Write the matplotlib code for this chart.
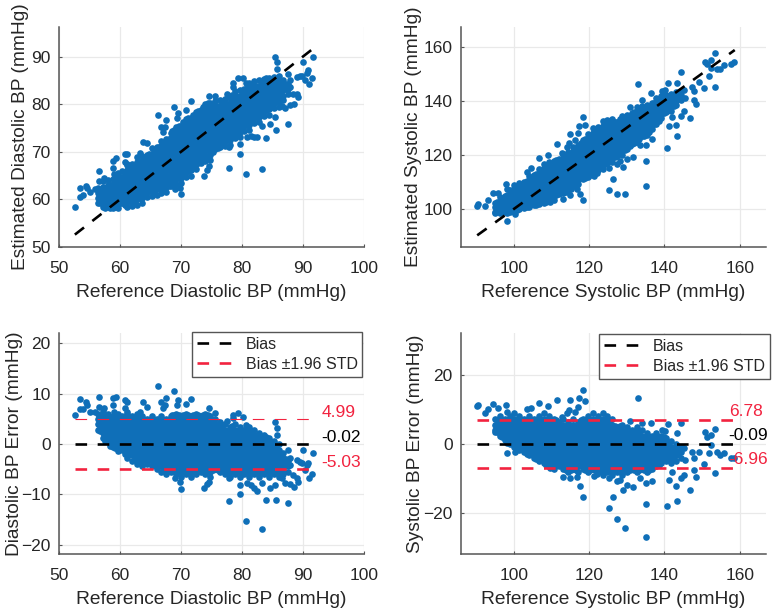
import matplotlib
matplotlib.use("Agg")
from matplotlib import pyplot as plt

plt.rcParams['font.family'] = ['Liberation Sans', 'DejaVu Sans']

# diastolic: reference value of each dense column and the errors read in it
dia_col_ref = [56.4, 57.2, 58.0, 58.8, 59.6, 60.4, 61.2, 62.0, 62.8, 63.6, 64.4, 65.2, 66.0, 66.8, 67.6, 68.4,
               69.2, 70.0, 70.8, 71.6, 72.4, 73.2, 74.0, 74.8, 75.6, 76.4, 77.2, 78.0, 78.8, 79.6, 80.4, 81.2,
               82.0, 82.8, 83.6, 84.4, 85.2, 86.0, 86.8, 87.6]
dia_col_err = [
    [2.8, 3.9, 5, 6],
    [1.1, 2.2, 3.3, 4.4, 5.5, 6.6],
    [.6, 1.7, 2.8, 3.9, 5, 6],
    [-.6, 0, 1.1, 2.2, 3.3, 4.4, 5.5],
    [-1.4, -.6, .6, 1.7, 2.8, 3.9, 5, 6],
    [-1.1, 0, 1.1, 2.2, 3.3, 4.4, 5.5],
    [-2.8, -1.7, -.6, .6, 1.7, 2.8, 3.9, 5, 6],
    [-3.3, -2.2, -1.1, 0, 1.1, 2.2, 3.3, 4.4, 5.5],
    [-3.9, -2.8, -1.7, -.6, .6, 1.7, 2.8, 3.9, 5, 6],
    [-4.4, -3.3, -2.2, -1.1, 0, 1.1, 2.2, 3.3, 4.4, 5.5],
    [-3.9, -2.8, -1.7, -.6, .6, 1.7, 2.8, 3.9, 5],
    [-4.4, -3.3, -2.2, -1.1, 0, 1.1, 2.2, 3.3, 4.4, 5.5],
    [-5, -3.9, -2.8, -1.7, -.6, .6, 1.7, 2.8, 3.9, 5],
    [-5.5, -4.4, -3.3, -2.2, -1.1, 0, 1.1, 2.2, 3.3, 4.4, 5.5],
    [-6, -5, -3.9, -2.8, -1.7, -.6, .6, 1.7, 2.8, 3.9, 5],
    [-5.5, -4.4, -3.3, -2.2, -1.1, 0, 1.1, 2.2, 3.3, 4.4, 5.5],
    [-6, -5, -3.9, -2.8, -1.7, -.6, .6, 1.7, 2.8, 3.9, 5, 6],
    [-6.6, -5.5, -4.4, -3.3, -2.2, -1.1, 0, 1.1, 2.2, 3.3, 4.4, 5.5],
    [-6, -5, -3.9, -2.8, -1.7, -.6, .6, 1.7, 2.8, 3.9, 5, 6],
    [-6.6, -5.5, -4.4, -3.3, -2.2, -1.1, 0, 1.1, 2.2, 3.3, 4.4, 5.5],
    [-6, -5, -3.9, -2.8, -1.7, -.6, .6, 1.7, 2.8, 3.9, 5, 6],
    [-5.5, -4.4, -3.3, -2.2, -1.1, 0, 1.1, 2.2, 3.3, 4.4, 5.5],
    [-6, -5, -3.9, -2.8, -1.7, -.6, .6, 1.7, 2.8, 3.9, 5, 6],
    [-6.6, -5.5, -4.4, -3.3, -2.2, -1.1, 0, 1.1, 2.2, 3.3, 4.4, 5.5],
    [-5, -3.9, -2.8, -1.7, -.6, .6, 1.7, 2.8, 3.9, 5],
    [-5.5, -4.4, -3.3, -2.2, -1.1, 0, 1.1, 2.2, 3.3, 4.4],
    [-6, -5, -3.9, -2.8, -1.7, -.6, .6, 1.7, 2.8, 3.9],
    [-6.6, -5.5, -4.4, -3.3, -2.2, -1.1, 0, 1.1, 2.2, 3.3],
    [-6, -5, -3.9, -2.8, -1.7, -.6, .6, 1.7, 2.8, 3.9],
    [-6.6, -5.5, -4.4, -3.3, -2.2, -1.1, 0, 1.1, 2.2, 3.3],
    [-6, -5, -3.9, -2.8, -1.7, -.6, .6, 1.7, 2.8],
    [-6.6, -5.5, -4.4, -3.3, -2.2, -1.1, 0, 1.1, 2.2, 3.3],
    [-6, -5, -3.9, -2.8, -1.7, -.6, .6, 1.7, 2.8],
    [-6.6, -5.5, -4.4, -3.3, -2.2, -1.1, 0, 1.1, 2.2],
    [-6, -5, -3.9, -2.8, -1.7, -.6, .6, 1.7],
    [-6.6, -5.5, -4.4, -3.3, -2.2, -1.1, 0, 1.1],
    [-6, -5, -3.9, -2.8, -1.7, -.6, .6],
    [-6.6, -5.5, -4.4, -3.3, -2.2, -1.1, 0],
    [-6, -5, -3.9, -2.8, -1.7],
    [-5.5, -4.4, -3.3],
]

# more diastolic points, in between those columns
dia_mid_ref = [56.8, 57.6, 58.4, 59.2, 60.0, 60.8, 61.6, 62.4, 63.2, 64.0, 64.8, 65.6, 66.4, 67.2, 68.0, 68.8,
               69.6, 70.4, 71.2, 72.0, 72.8, 73.6, 74.4, 75.2, 76.0, 76.8, 77.6, 78.4, 79.2, 80.0, 80.8, 81.6,
               82.4, 83.2, 84.0, 84.8, 85.6, 86.4, 87.2]
dia_mid_err = [
    [2.5, 3.6, 4.7],
    [.6, 1.4, 2.5, 3.6, 4.7],
    [-.3, .3, 1.4, 2.5, 3.6, 4.7],
    [-.8, .3, 1.4, 2.5, 3.6, 4.7],
    [-.8, .3, 1.4, 2.5, 3.6, 4.7],
    [-1.9, -.8, .3, 1.4, 2.5, 3.6, 4.7],
    [-1.9, -.8, .3, 1.4, 2.5, 3.6, 4.7],
    [-3, -1.9, -.8, .3, 1.4, 2.5, 3.6, 4.7],
    [-3, -1.9, -.8, .3, 1.4, 2.5, 3.6, 4.7],
    [-3, -1.9, -.8, .3, 1.4, 2.5, 3.6, 4.7],
    [-3, -1.9, -.8, .3, 1.4, 2.5, 3.6, 4.7],
    [-4.1, -3, -1.9, -.8, .3, 1.4, 2.5, 3.6, 4.7],
    [-4.1, -3, -1.9, -.8, .3, 1.4, 2.5, 3.6, 4.7],
    [-5.2, -4.1, -3, -1.9, -.8, .3, 1.4, 2.5, 3.6, 4.7],
    [-5.2, -4.1, -3, -1.9, -.8, .3, 1.4, 2.5, 3.6, 4.7],
    [-5.2, -4.1, -3, -1.9, -.8, .3, 1.4, 2.5, 3.6, 4.7, 5.8],
    [-5.2, -4.1, -3, -1.9, -.8, .3, 1.4, 2.5, 3.6, 4.7, 5.8],
    [-5.2, -4.1, -3, -1.9, -.8, .3, 1.4, 2.5, 3.6, 4.7, 5.8],
    [-5.2, -4.1, -3, -1.9, -.8, .3, 1.4, 2.5, 3.6, 4.7, 5.8],
    [-5.2, -4.1, -3, -1.9, -.8, .3, 1.4, 2.5, 3.6, 4.7, 5.8],
    [-5.2, -4.1, -3, -1.9, -.8, .3, 1.4, 2.5, 3.6, 4.7, 5.8],
    [-5.2, -4.1, -3, -1.9, -.8, .3, 1.4, 2.5, 3.6, 4.7, 5.8],
    [-5.2, -4.1, -3, -1.9, -.8, .3, 1.4, 2.5, 3.6, 4.7, 5.8],
    [-5.2, -4.1, -3, -1.9, -.8, .3, 1.4, 2.5, 3.6, 4.7],
    [-5.2, -4.1, -3, -1.9, -.8, .3, 1.4, 2.5, 3.6],
    [-5.2, -4.1, -3, -1.9, -.8, .3, 1.4, 2.5, 3.6],
    [-5.2, -4.1, -3, -1.9, -.8, .3, 1.4, 2.5],
    [-5.2, -4.1, -3, -1.9, -.8, .3, 1.4, 2.5, 3.6],
    [-5.2, -4.1, -3, -1.9, -.8, .3, 1.4, 2.5],
    [-5.2, -4.1, -3, -1.9, -.8, .3, 1.4, 2.5],
    [-5.2, -4.1, -3, -1.9, -.8, .3, 1.4, 2.5],
    [-5.2, -4.1, -3, -1.9, -.8, .3, 1.4, 2.5],
    [-5.2, -4.1, -3, -1.9, -.8, .3, 1.4],
    [-5.2, -4.1, -3, -1.9, -.8, .3, 1.4],
    [-5.2, -4.1, -3, -1.9, -.8, .3, 1.4],
    [-5.2, -4.1, -3, -1.9, -.8, .3],
    [-5.2, -4.1, -3, -1.9, -.8],
    [-5.2, -4.1, -3, -1.9],
    [-4.1, -3],
]

# diastolic points lying outside the dense cloud
dia_out_ref = [52.6, 53.4, 53.4, 54, 54.5, 54.6, 55.1, 55.9, 56.5, 56.5, 57.3, 58.8, 59.3, 58.9, 59, 60.8, 61.2,
               60.8, 61.1, 63.7, 64.5, 63.3, 66.3, 66.8, 67.5, 67.4, 67.1, 68.9, 69.5, 69.3, 71.7, 70.9, 74.6,
               75.6, 68.5, 77.6, 78.6, 79.3, 78.6, 80.1, 80.7, 85.4, 85.7, 85.7, 90.0, 91.6, 87.6, 87.8, 87.8,
               89, 89.8, 90.9, 90.3, 91.4, 91, 90.7, 89.5, 88.4, 89, 89.2, 87.9, 88.6, 87, 86.5, 87.6, 85.5,
               83.9, 83.2, 80.6, 77.9, 79.6, 79.7, 80.8, 81.4, 82.4, 81.9, 83.2, 84.6, 85.4, 70, 73.7, 74.6,
               74.2, 69, 69.9, 77.8]
dia_out_err = [5.8, 7.0, 8.9, 7, 8.4, 7.7, 6.4, 6.3, 9.4, 7.4, 7.1, 9.2, 9.4, 7.7, 6.4, 8.7, 8.4,
               7.1, 6.4, 8.4, 7.4, 6.4, 11.5, 8.3, 9.2, 7.7, 7.1, 10.6, 8.7, 7.7, 8.9, 7.9, 7.2,
               6.2, 5.8, 4.6, 5.1, 6.1, 5.8, 5.4, 3.8, 4.4, 3.1, 1.7, -1.1, -1.7, -1.2, -2.8, -4.2,
               -3.2, -3.8, -3.8, -5.2, -6, -6.7, -4.2, -3.5, -6.2, -6.8, -7.6, -8, -8.6, -7.8, -6.8, -11.7, -11,
               -11, -16.9, -15.3, -11.3, -10, -8.1, -7.8, -8.1, -9.3, -8.7, -7.8, -8.7, -8.1, -8.9, -8.7, -7.5,
               -8, -6.8, -7.5, -6.8]

# systolic: same thing
sys_col_ref = [95.0, 96.3, 97.6, 98.9, 100.2, 101.5, 102.8, 104.1, 105.4, 106.7, 108.0, 109.3, 110.6, 111.9,
               113.2, 114.5, 115.8, 117.1, 118.4, 119.7, 121.0, 122.3, 123.6, 124.9, 126.2, 127.5, 128.8, 130.1,
               131.4, 132.7, 134.0, 135.3, 136.6, 137.9, 139.2, 140.5, 141.8, 143.1, 144.4]
sys_col_err = [
    [3.4, 4, 5.6, 7.2],
    [2.4, 3.2, 4.8, 6.4, 8],
    [1.2, 2.4, 4, 5.6, 7.2],
    [0, 1.6, 3.2, 4.8, 6.4, 8],
    [-.8, .8, 2.4, 4, 5.6, 7.2, 8.8],
    [-1.6, 0, 1.6, 3.2, 4.8, 6.4, 8],
    [-2.4, -.8, .8, 2.4, 4, 5.6, 7.2],
    [-3.2, -1.6, 0, 1.6, 3.2, 4.8, 6.4, 8],
    [-4, -2.4, -.8, .8, 2.4, 4, 5.6, 7.2],
    [-4.8, -3.2, -1.6, 0, 1.6, 3.2, 4.8, 6.4, 8],
    [-5.6, -4, -2.4, -.8, .8, 2.4, 4, 5.6, 7.2, 8.8],
    [-6.4, -4.8, -3.2, -1.6, 0, 1.6, 3.2, 4.8, 6.4, 8],
    [-7.2, -5.6, -4, -2.4, -.8, .8, 2.4, 4, 5.6, 7.2],
    [-6.4, -4.8, -3.2, -1.6, 0, 1.6, 3.2, 4.8, 6.4],
    [-7.2, -5.6, -4, -2.4, -.8, .8, 2.4, 4, 5.6, 7.2],
    [-8, -6.4, -4.8, -3.2, -1.6, 0, 1.6, 3.2, 4.8, 6.4],
    [-7.2, -5.6, -4, -2.4, -.8, .8, 2.4, 4, 5.6, 7.2],
    [-8, -6.4, -4.8, -3.2, -1.6, 0, 1.6, 3.2, 4.8, 6.4],
    [-7.2, -5.6, -4, -2.4, -.8, .8, 2.4, 4, 5.6, 7.2],
    [-8, -6.4, -4.8, -3.2, -1.6, 0, 1.6, 3.2, 4.8, 6.4, 8],
    [-7.2, -5.6, -4, -2.4, -.8, .8, 2.4, 4, 5.6, 7.2, 8.8],
    [-8, -6.4, -4.8, -3.2, -1.6, 0, 1.6, 3.2, 4.8, 6.4, 8],
    [-8.8, -7.2, -5.6, -4, -2.4, -.8, .8, 2.4, 4, 5.6, 7.2, 8.8],
    [-8, -6.4, -4.8, -3.2, -1.6, 0, 1.6, 3.2, 4.8, 6.4, 8],
    [-8.8, -7.2, -5.6, -4, -2.4, -.8, .8, 2.4, 4, 5.6, 7.2],
    [-8, -6.4, -4.8, -3.2, -1.6, 0, 1.6, 3.2, 4.8],
    [-8.8, -7.2, -5.6, -4, -2.4, -.8, .8, 2.4, 4, 5.6],
    [-8, -6.4, -4.8, -3.2, -1.6, 0, 1.6, 3.2, 4.8],
    [-7.2, -5.6, -4, -2.4, -.8, .8, 2.4, 4],
    [-8, -6.4, -4.8, -3.2, -1.6, 0, 1.6, 3.2, 4.8],
    [-7.2, -5.6, -4, -2.4, -.8, .8, 2.4, 4],
    [-8, -6.4, -4.8, -3.2, -1.6, 0, 1.6, 3.2],
    [-7.2, -5.6, -4, -2.4, -.8, .8, 2.4],
    [-6.4, -4.8, -3.2, -1.6, 0, 1.6, 3.2],
    [-5.6, -4, -2.4, -.8, .8, 2.4],
    [-4.8, -3.2, -1.6, 0, 1.6],
    [-5.6, -4, -2.4, -.8, .8],
    [-4.8, -3.2, -1.6, 0],
    [-4, -2.4, -.8],
]

sys_mid_ref = [95.65, 96.95, 98.25, 99.55, 100.85, 102.15, 103.45, 104.75, 106.05, 107.35, 108.65, 109.95, 111.25,
               112.55, 113.85, 115.15, 116.45, 117.75, 119.05, 120.35, 121.65, 122.95, 124.25, 125.55, 126.85,
               128.15, 129.45, 130.75, 132.05, 133.35, 134.65, 135.95, 137.25, 138.55, 139.85, 141.15, 142.45,
               143.75]
sys_mid_err = [
    [3.6, 5.2, 6.8],
    [2, 3.6, 5.2, 6.8],
    [.4, 2, 3.6, 5.2, 6.8],
    [.4, 2, 3.6, 5.2, 6.8],
    [-1.2, .4, 2, 3.6, 5.2, 6.8],
    [-1.2, .4, 2, 3.6, 5.2, 6.8],
    [-2.8, -1.2, .4, 2, 3.6, 5.2, 6.8],
    [-2.8, -1.2, .4, 2, 3.6, 5.2, 6.8],
    [-4.4, -2.8, -1.2, .4, 2, 3.6, 5.2, 6.8],
    [-4.4, -2.8, -1.2, .4, 2, 3.6, 5.2, 6.8],
    [-6, -4.4, -2.8, -1.2, .4, 2, 3.6, 5.2, 6.8],
    [-6, -4.4, -2.8, -1.2, .4, 2, 3.6, 5.2, 6.8],
    [-6, -4.4, -2.8, -1.2, .4, 2, 3.6, 5.2, 6.8],
    [-6, -4.4, -2.8, -1.2, .4, 2, 3.6, 5.2],
    [-7.6, -6, -4.4, -2.8, -1.2, .4, 2, 3.6, 5.2],
    [-7.6, -6, -4.4, -2.8, -1.2, .4, 2, 3.6, 5.2],
    [-7.6, -6, -4.4, -2.8, -1.2, .4, 2, 3.6, 5.2],
    [-6, -4.4, -2.8, -1.2, .4, 2, 3.6, 5.2, 6.8],
    [-7.6, -6, -4.4, -2.8, -1.2, .4, 2, 3.6, 5.2, 6.8],
    [-7.6, -6, -4.4, -2.8, -1.2, .4, 2, 3.6, 5.2, 6.8],
    [-7.6, -6, -4.4, -2.8, -1.2, .4, 2, 3.6, 5.2, 6.8],
    [-7.6, -6, -4.4, -2.8, -1.2, .4, 2, 3.6, 5.2, 6.8],
    [-7.6, -6, -4.4, -2.8, -1.2, .4, 2, 3.6, 5.2, 6.8],
    [-7.6, -6, -4.4, -2.8, -1.2, .4, 2, 3.6, 5.2, 6.8],
    [-7.6, -6, -4.4, -2.8, -1.2, .4, 2, 3.6, 5.2],
    [-7.6, -6, -4.4, -2.8, -1.2, .4, 2, 3.6, 5.2],
    [-7.6, -6, -4.4, -2.8, -1.2, .4, 2, 3.6],
    [-7.6, -6, -4.4, -2.8, -1.2, .4, 2, 3.6],
    [-7.6, -6, -4.4, -2.8, -1.2, .4, 2, 3.6],
    [-7.6, -6, -4.4, -2.8, -1.2, .4, 2, 3.6],
    [-7.6, -6, -4.4, -2.8, -1.2, .4, 2],
    [-7.6, -6, -4.4, -2.8, -1.2, .4, 2],
    [-6, -4.4, -2.8, -1.2, .4, 2],
    [-6, -4.4, -2.8, -1.2, .4, 2],
    [-4.4, -2.8, -1.2, .4, 2],
    [-4.4, -2.8, -1.2, .4],
    [-4.4, -2.8, -1.2],
    [-2.8, -1.2],
]

sys_out_ref = [90.6, 90.3, 92.4, 93.3, 94.6, 95.7, 97.9, 98.3, 98.1, 100.4, 103.5, 104.5, 106.8, 109, 111.4, 115,
               117.4, 118.4, 118.8, 117.2, 114.6, 116.3, 114.1, 112.8, 132.9, 131, 134.1, 136.5, 140.9, 144.5,
               143.4, 139.4, 140.3, 150.9, 152.3, 153.4, 151.4, 149.2, 151.8, 152.3, 154, 154.9, 157.6, 158.5,
               155.8, 150.5, 153.4, 148.3, 146.9, 147.8, 145.2, 143.4, 143.2, 140.7, 135.1, 135.1, 129.5, 127.4,
               126.4, 125.4, 118.5, 117.7, 128.9, 131.6, 130.1, 127.4, 141.2, 144.3, 135, 136.7, 122.1, 121.2,
               113.2, 115, 116.8, 109.7, 125.2, 128.3, 133.6, 142.1, 145.6, 147.4, 147.8, 145.2, 142.5]
sys_out_err = [11.2, 11, 8.8, 10.1, 11.5, 10.3, 11.2, 9.1, -2.5, -2.2, 10.1, 10.5, 11.9, 10.9, 12.6, 12.7,
               13.4, 15.5, 12.4, 10.7, 9.8, 9.3, 8.8, 7.9, 13.4, 6.6, 6.2, 6.2, 5.8, 6.1,
               3.1, 4, 3.7, 3.5, 2.6, 4.2, 2.1, -2.2, -2.7, -.3, -2.2, -3.2, -3.9, -4.1,
               -2.7, -5.8, -8.4, -9.4, -13.2, -7.5, -8.9, -16.4, -12.1, -18, -17.3, -26.7, -24.1, -21.7,
               -15.3, -18.5, -15.3, -12, -13.2, -12.5, -11.8, -10.8, -10.4, -9.9, -11.3, -10.8, -8.7, -9.1,
               -9.4, -9.9, -9.4, -7, -9.9, -10.4, -9.9, -8, -4.6, -2.2, -4.1, -1.2, -3.2]

dia_limits = [52.6, 91.6]
sys_limits = [90.3, 158.7]
dia_stats = [4.99, -0.02, -5.03]
sys_stats = [6.78, -0.09, -6.96]
dia_labels = ['4.99', '-0.02', '-5.03']
sys_labels = ['6.78', '-0.09', '-6.96']
legend_labels = ['Bias', 'Bias ±1.96 STD']

BLUE = '#0f6fb8'
RED = '#f2233f'
TEXT = '#262626'
DASH = (0, (4.4, 4.0))
W, H = 779, 611


def flatten(ref_lists, err_lists):
    ref, err = [], []
    for x, vals in zip(ref_lists, err_lists):
        for v in vals:
            ref.append(x)
            err.append(v)
    return ref, err


r1, e1 = flatten(dia_col_ref, dia_col_err)
r2, e2 = flatten(dia_mid_ref, dia_mid_err)
dia_ref = r1 + r2 + dia_out_ref
dia_err = e1 + e2 + dia_out_err
r1, e1 = flatten(sys_col_ref, sys_col_err)
r2, e2 = flatten(sys_mid_ref, sys_mid_err)
sys_ref = r1 + r2 + sys_out_ref
sys_err = e1 + e2 + sys_out_err
# estimate = reference + error
dia_est = [r + e for r, e in zip(dia_ref, dia_err)]
sys_est = [r + e for r, e in zip(sys_ref, sys_err)]


def make_axes(fig, left, right, top, bottom, xlim, ylim, xticks, yticks, xlabel, ylabel, ylabel_px):
    ax = fig.add_axes([left / W, 1 - bottom / H, (right - left) / W, (bottom - top) / H])
    ax.set_xlim(xlim)
    ax.set_ylim(ylim)
    ax.set_xticks(xticks)
    ax.set_yticks(yticks)
    ax.spines['top'].set_visible(False)
    ax.spines['right'].set_visible(False)
    ax.spines['left'].set_color('#555555')
    ax.spines['bottom'].set_color('#555555')
    ax.spines['left'].set_linewidth(1.1)
    ax.spines['bottom'].set_linewidth(1.1)
    ax.grid(True, color='#e9e9e9', linewidth=0.9)
    ax.set_axisbelow(True)
    ax.tick_params(direction='in', length=2.5, color='#555555', labelsize=12.5, labelcolor=TEXT)
    ax.tick_params(axis='x', pad=10)
    ax.tick_params(axis='y', pad=6)
    ax.set_xlabel(xlabel, fontsize=13.8, color=TEXT, va='center')
    ax.set_ylabel(ylabel, fontsize=13.8, color=TEXT, va='center')
    ax.xaxis.set_label_coords(0.5, -45.5 / (bottom - top))
    ax.yaxis.set_label_coords((ylabel_px - left) / (right - left), 0.5)
    return ax


def scatter_panel(ax, ref, est, limits):
    ax.scatter(ref, est, s=23, color=BLUE, linewidths=0, zorder=2)
    ax.plot(limits, limits, color='black', lw=1.9, linestyle=DASH, zorder=3)


def error_panel(ax, ref, err, limits, stats, labels, text_x, text_y, upper_lw, legend_pos, handle_len, text_pad):
    ax.scatter(ref, err, s=23, color=BLUE, linewidths=0, zorder=2)
    h1, = ax.plot(limits, [stats[1]] * 2, color='black', lw=1.9, linestyle=DASH, zorder=3)
    h2, = ax.plot(limits, [stats[2]] * 2, color=RED, lw=1.9, linestyle=DASH, zorder=3)
    ax.plot(limits, [stats[0]] * 2, color=RED, lw=upper_lw,
            linestyle=(0, (4.4 * 1.9 / upper_lw, 4.0 * 1.9 / upper_lw)), zorder=3)
    colors = [RED, 'black', RED]
    for t_x, t_y, lab, col in zip(text_x, text_y, labels, colors):
        ax.text(t_x, t_y, lab, color=col, fontsize=12.5, va='center', ha='left', clip_on=False, zorder=4)
    leg = ax.legend([h1, h2], legend_labels, loc='upper right', bbox_to_anchor=legend_pos, fontsize=11.5,
                    fancybox=False, framealpha=1, edgecolor='#555555', handlelength=handle_len, borderpad=0.3,
                    labelspacing=0.32, handletextpad=text_pad, borderaxespad=0)
    leg.get_frame().set_linewidth(1.0)
    leg.set_zorder(5)
    for t in leg.get_texts():
        t.set_color(TEXT)


fig = plt.figure(figsize=(W / 100, H / 100), dpi=100, facecolor='white')

dia_xticks = [50, 60, 70, 80, 90, 100]
sys_xticks = [100, 120, 140, 160]

ax1 = make_axes(fig, 59, 364, 27, 247, (50, 100), (50, 96.2), dia_xticks, [50, 60, 70, 80, 90],
                'Reference Diastolic BP (mmHg)', 'Estimated Diastolic BP (mmHg)', 21)
scatter_panel(ax1, dia_ref, dia_est, dia_limits)

ax2 = make_axes(fig, 461, 766, 27, 247, (86, 167), (86, 167.2), sys_xticks, [100, 120, 140, 160],
                'Reference Systolic BP (mmHg)', 'Estimated Systolic BP (mmHg)', 413)
scatter_panel(ax2, sys_ref, sys_est, sys_limits)

ax3 = make_axes(fig, 59, 364, 333, 554, (50, 100), (-21.8, 22), dia_xticks, [-20, -10, 0, 10, 20],
                'Reference Diastolic BP (mmHg)', 'Diastolic BP Error (mmHg)', 15)
error_panel(ax3, dia_ref, dia_err, dia_limits, dia_stats, dia_labels, [93, 93, 93], [6.3, 1.3, -3.6], 0.8,
            (0.995, 1.005), 2.6, 0.45)

ax4 = make_axes(fig, 461, 766, 333, 554, (86, 167), (-31.7, 32), sys_xticks, [-20, 0, 20],
                'Reference Systolic BP (mmHg)', 'Systolic BP Error (mmHg)', 416)
error_panel(ax4, sys_ref, sys_err, sys_limits, sys_stats, sys_labels, [157.1, 157.1, 157.1], [9.5, 2.6, -4.4], 1.9,
            (1.013, 0.995), 2.2, 0.9)

fig.savefig('out.png', dpi=100)
